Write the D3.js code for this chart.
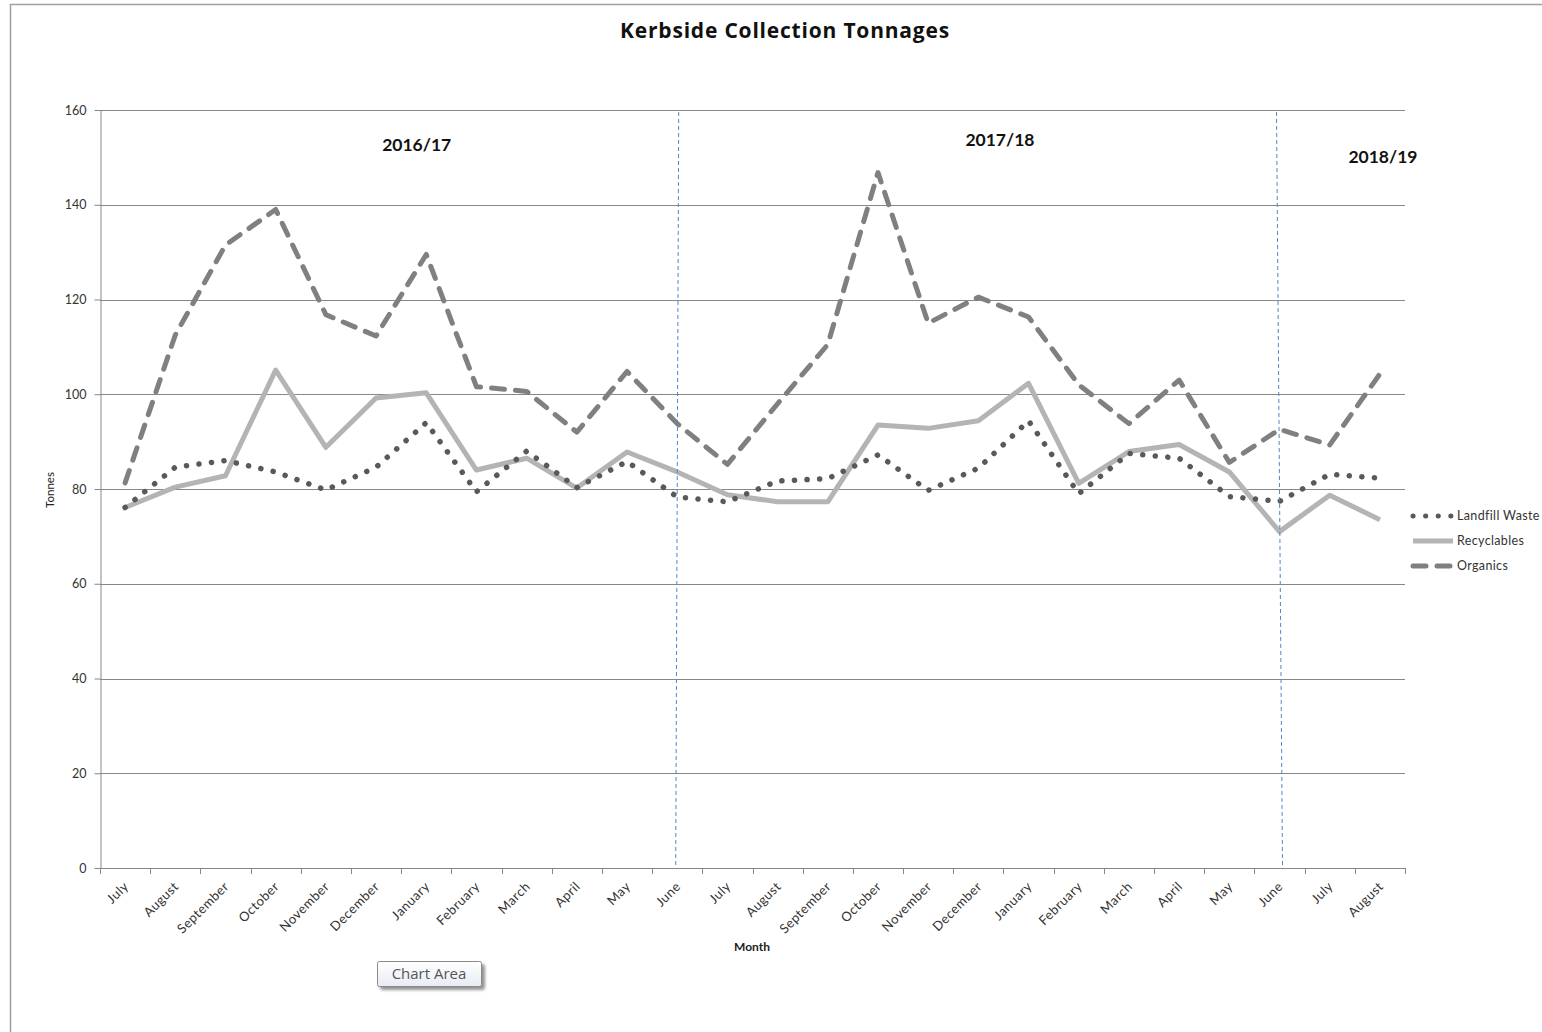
<!DOCTYPE html>
<html>
<head>
<meta charset="utf-8">
<title>Kerbside Collection Tonnages</title>
<script src="https://cdn.jsdelivr.net/npm/d3@7"></script>
<style>
  body { margin: 0; background: #fff; }
  svg { display: block; }
</style>
</head>
<body>
<svg id="chart" width="1542" height="1032"></svg>
<script>
// Months from July 2016 to August 2018
const months = [
  "July", "August", "September", "October", "November", "December",
  "January", "February", "March", "April", "May", "June",
  "July", "August", "September", "October", "November", "December",
  "January", "February", "March", "April", "May", "June",
  "July", "August"
];

// Monthly tonnages
const landfill = [
  76.1, 84.6, 86.0, 83.6, 79.8, 84.6, 94.0, 79.4, 88.0, 80.3, 85.8, 78.3,
  77.3, 81.7, 82.2, 87.2, 79.7, 84.4, 94.4, 79.0, 87.5, 86.5, 78.4, 77.4,
  83.1, 82.3
];
const recyclables = [
  76.1, 80.4, 82.8, 105.1, 88.8, 99.2, 100.3, 84.0, 86.5, 80.2, 87.8, 83.6,
  78.8, 77.3, 77.3, 93.5, 92.8, 94.4, 102.3, 81.2, 87.9, 89.4, 83.6, 71.0,
  78.7, 73.5
];
const organics = [
  81.3, 112.5, 131.5, 139.0, 116.8, 112.3, 129.5, 101.6, 100.6, 92.0, 104.8, 93.8,
  85.2, 98.0, 110.5, 146.8, 115.0, 120.5, 116.3, 102.0, 93.8, 103.0, 85.6, 92.6,
  89.3, 104.3
];

const seriesNames = ["Landfill Waste", "Recyclables", "Organics"];
const yTicks = [0, 20, 40, 60, 80, 100, 120, 140, 160];
const seasons = ["2016/17", "2017/18", "2018/19"];
const yearEndIdx = [11, 23];   // June closes each financial year

// ---- layout ----
const svg = d3.select("#chart");
const plot = { left: 100, right: 1405, top: 110, bottom: 868 };
const gridColor = "#878787";
const font = "Lato, 'Open Sans', 'Liberation Sans', sans-serif";

const x = d3.scaleBand().domain(d3.range(months.length)).range([plot.left, plot.right]);
const xMid = i => x(i) + x.bandwidth() / 2;
const xFrac = d3.scaleLinear().domain([0, months.length]).range([plot.left, plot.right]);
const y = d3.scaleLinear().domain([0, 160]).range([plot.bottom, plot.top]);

svg.append("rect").attr("width", 1542).attr("height", 1032).attr("fill", "#fff");

// chart-area border
svg.append("rect")
  .attr("x", 10.5).attr("y", 4.5).attr("width", 1600).attr("height", 1100)
  .attr("fill", "none").attr("stroke", "#a0a0a0").attr("stroke-width", 1.5);

// title
svg.append("text")
  .attr("x", 785).attr("y", 38)
  .attr("text-anchor", "middle")
  .attr("font-family", "'Open Sans', Lato, sans-serif").attr("font-weight", "bold")
  .attr("font-size", 21).attr("letter-spacing", 0.8)
  .attr("fill", "#111")
  .text("Kerbside Collection Tonnages");

// horizontal gridlines
svg.append("g").selectAll("line")
  .data(yTicks.filter(v => v > 0))
  .join("line")
  .attr("x1", plot.left).attr("x2", plot.right)
  .attr("y1", d => Math.round(y(d)) + 0.5).attr("y2", d => Math.round(y(d)) + 0.5)
  .attr("stroke", gridColor).attr("stroke-width", 1);

// y axis
const yAxis = svg.append("g")
  .attr("transform", `translate(${plot.left + 0.5},0)`)
  .call(d3.axisLeft(y).tickValues(yTicks).tickSize(6).tickSizeOuter(0).tickPadding(8));
yAxis.select(".domain").attr("stroke", gridColor);
yAxis.selectAll(".tick line").attr("stroke", gridColor);
yAxis.selectAll("text")
  .attr("font-family", font).attr("font-size", 12.5).attr("fill", "#333");

// x axis line and category-boundary ticks
const xAxis = svg.append("g");
xAxis.append("line")
  .attr("x1", plot.left).attr("x2", plot.right)
  .attr("y1", Math.round(plot.bottom) + 0.5).attr("y2", Math.round(plot.bottom) + 0.5)
  .attr("stroke", gridColor);
xAxis.selectAll("line.tick")
  .data(d3.range(months.length + 1))
  .join("line").attr("class", "tick")
  .attr("x1", i => Math.round(xFrac(i)) + 0.5).attr("x2", i => Math.round(xFrac(i)) + 0.5)
  .attr("y1", plot.bottom).attr("y2", plot.bottom + 6)
  .attr("stroke", gridColor);
xAxis.selectAll("text")
  .data(months)
  .join("text")
  .attr("transform", (d, i) => `translate(${xMid(i) + 1},${plot.bottom + 16}) rotate(-45)`)
  .attr("text-anchor", "end").attr("dy", "0.35em")
  .attr("font-family", font).attr("font-size", 13).attr("letter-spacing", 0.5)
  .attr("fill", "#333")
  .text(d => d);

// axis titles
svg.append("text")
  .attr("transform", `translate(54,490) rotate(-90)`)
  .attr("text-anchor", "middle")
  .attr("font-family", font).attr("font-size", 11.5).attr("fill", "#222")
  .text("Tonnes");
svg.append("text")
  .attr("x", 752).attr("y", 951)
  .attr("text-anchor", "middle")
  .attr("font-family", font).attr("font-weight", "bold").attr("font-size", 12).attr("fill", "#222")
  .text("Month");

// series
const line = d3.line().x((d, i) => xMid(i)).y(d => y(d));
const styles = [
  { data: landfill, color: "#595959", dash: "0.1 12.5", cap: "round", width: 5.5 },
  { data: recyclables, color: "#b4b4b4", dash: null, cap: "butt", width: 5 },
  { data: organics, color: "#808080", dash: "13 11", cap: "round", width: 5 }
];
const drawOrder = [2, 1, 0];
drawOrder.forEach(k => {
  const s = styles[k];
  svg.append("path")
    .datum(s.data)
    .attr("d", line)
    .attr("fill", "none")
    .attr("stroke", s.color)
    .attr("stroke-width", s.width)
    .attr("stroke-linejoin", "round")
    .attr("stroke-linecap", s.cap)
    .attr("stroke-dasharray", s.dash);
});

// financial-year dividers
const slant = [[1.5, -1.5], [-3, 3]];
svg.append("g").selectAll("line")
  .data(yearEndIdx)
  .join("line")
  .attr("x1", (d, i) => xMid(d) + slant[i][0]).attr("y1", y(160) + 2)
  .attr("x2", (d, i) => xMid(d) + slant[i][1]).attr("y2", y(0) - 1)
  .attr("stroke", "#4f86cc").attr("stroke-width", 1)
  .attr("stroke-dasharray", "4 3");

// financial-year labels
const seasonAt = [[6.31, 152.6], [17.93, 153.6], [25.56, 150.2]];
svg.append("g").selectAll("text")
  .data(seasons)
  .join("text")
  .attr("x", (d, i) => xFrac(seasonAt[i][0]))
  .attr("y", (d, i) => y(seasonAt[i][1]))
  .attr("text-anchor", "middle").attr("dy", "0.35em")
  .attr("font-family", font).attr("font-weight", "bold").attr("font-size", 17.5)
  .attr("fill", "#111")
  .text(d => d);

// legend
const legend = svg.append("g");
seriesNames.forEach((name, k) => {
  const s = styles[k];
  const ly = 516 + k * 25;
  legend.append("line")
    .attr("x1", 1413).attr("x2", 1453).attr("y1", ly).attr("y2", ly)
    .attr("stroke", s.color).attr("stroke-width", 5)
    .attr("stroke-linecap", s.cap)
    .attr("stroke-dasharray", s.dash);
  legend.append("text")
    .attr("x", 1457).attr("y", ly).attr("dy", "0.35em")
    .attr("font-family", font).attr("font-size", 12.5).attr("letter-spacing", 0.35)
    .attr("fill", "#333")
    .text(name);
});

// "Chart Area" hover label
const defs = svg.append("defs");
const grad = defs.append("linearGradient").attr("id", "tipFill").attr("x1", 0).attr("y1", 0).attr("x2", 0).attr("y2", 1);
grad.append("stop").attr("offset", "0%").attr("stop-color", "#ffffff");
grad.append("stop").attr("offset", "100%").attr("stop-color", "#e8ebf5");
const shadow = defs.append("filter").attr("id", "tipShadow").attr("x", "-20%").attr("y", "-30%").attr("width", "150%").attr("height", "180%");
shadow.append("feDropShadow").attr("dx", 3).attr("dy", 3).attr("stdDeviation", 1.5).attr("flood-color", "#666").attr("flood-opacity", 0.7);
const tip = svg.append("g");
tip.append("rect")
  .attr("x", 377.5).attr("y", 961.5).attr("width", 104).attr("height", 25).attr("rx", 2)
  .attr("fill", "url(#tipFill)").attr("stroke", "#8a8a8a")
  .attr("filter", "url(#tipShadow)");
tip.append("text")
  .attr("x", 429).attr("y", 974).attr("dy", "0.36em")
  .attr("text-anchor", "middle")
  .attr("font-family", "'Open Sans', 'Noto Sans', sans-serif").attr("font-size", 15)
  .attr("fill", "#555")
  .text("Chart Area");
</script>
</body>
</html>
